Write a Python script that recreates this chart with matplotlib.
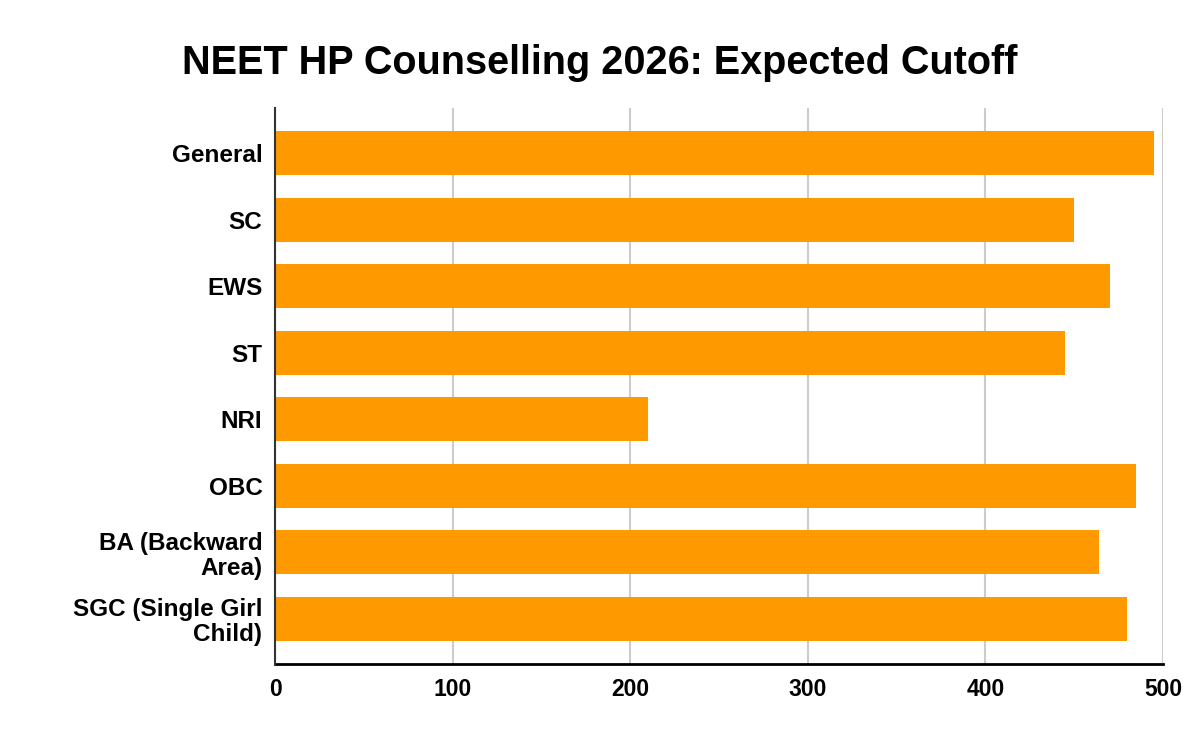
import matplotlib
matplotlib.use("Agg")
import matplotlib.pyplot as plt

categories = ["General", "SC", "EWS", "ST", "NRI", "OBC", "BA (Backward\nArea)", "SGC (Single Girl\nChild)"]
cutoffs = [495, 450, 470, 445, 210, 485, 464, 480]
xticks = [0, 100, 200, 300, 400, 500]

plt.rcParams['font.family'] = ['Liberation Sans', 'DejaVu Sans']

fig = plt.figure(figsize=(12, 7.42), dpi=100)
ax = fig.add_axes([275/1200, (742-664)/742, (1163-275)/1200, (664-108)/742])

y = list(range(len(categories)))
ax.barh(y, cutoffs, height=0.66, color="#ff9900", zorder=3)
ax.set_ylim(len(categories) - 0.5 + 0.18, -0.5 - 0.18)
ax.set_xlim(0, 500)
ax.set_xticks(xticks)
ax.set_xticklabels([str(t) for t in xticks], fontsize=16.5, fontweight='bold')
ax.set_yticks(y)
ax.set_yticklabels(categories, fontsize=17.5, fontweight='bold', linespacing=1.1)
ax.tick_params(axis='both', length=0)
ax.tick_params(axis='y', pad=9)
ax.tick_params(axis='x', pad=10)
ax.grid(axis='x', color='#cccccc', linewidth=1.5, zorder=0)
for s in ['top', 'right']:
    ax.spines[s].set_visible(False)
ax.spines['left'].set_color('#333333')
ax.spines['left'].set_linewidth(1.5)
ax.spines['left'].set_zorder(4)
ax.spines['bottom'].set_color('black')
ax.spines['bottom'].set_linewidth(2)

fig.text(0.5, 1 - 63/742, "NEET HP Counselling 2026: Expected Cutoff", ha='center', va='center',
         fontsize=28.5, fontweight='bold')

fig.savefig("out.png", dpi=100, facecolor='white')
